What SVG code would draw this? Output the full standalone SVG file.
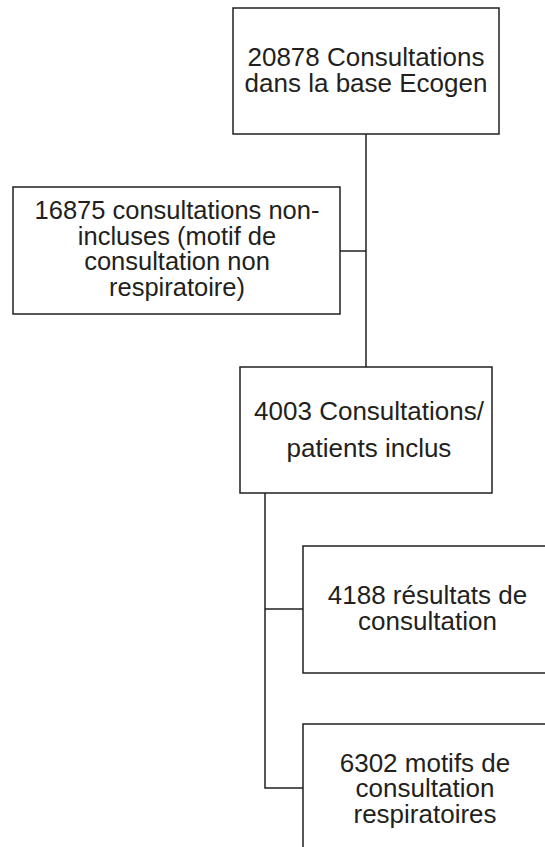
<svg xmlns="http://www.w3.org/2000/svg" width="545" height="847" viewBox="0 0 545 847">
<style>
.box{fill:#ffffff;stroke:#231f20;stroke-width:1.5}
.lbl{font-family:"Liberation Sans",Arial,sans-serif;font-size:26px;fill:#231f20;text-anchor:middle}
.con{fill:none;stroke:#231f20;stroke-width:1.5}
</style>
<rect width="545" height="847" fill="#ffffff"/>
<g id="connectors">
<path class="con" d="M366,134 V367"/>
<path class="con" d="M340,251 H366"/>
<path class="con" d="M265,493 V788 H303"/>
<path class="con" d="M265,609 H303"/>
</g>
<g id="n1">
<rect class="box" x="233" y="8" width="266" height="126"/>
<text class="lbl" x="366" y="66">20878 Consultations</text>
<text class="lbl" x="366" y="92">dans la base Ecogen</text>
</g>
<g id="n2">
<rect class="box" x="13" y="187" width="327" height="127"/>
<text class="lbl" x="177" y="219" style="font-size:25.5px">16875 consultations non-</text>
<text class="lbl" x="177" y="245" style="font-size:25.5px">incluses (motif de</text>
<text class="lbl" x="177" y="270" style="font-size:25.5px">consultation non</text>
<text class="lbl" x="177" y="296" style="font-size:25.5px">respiratoire)</text>
</g>
<g id="n3">
<rect class="box" x="240" y="367" width="252" height="126"/>
<text class="lbl" x="369" y="420">4003 Consultations/</text>
<text class="lbl" x="369" y="457">patients inclus</text>
</g>
<g id="n4">
<rect class="box" x="303" y="546" width="260" height="127"/>
<text class="lbl" x="427.5" y="604">4188 résultats de</text>
<text class="lbl" x="427.5" y="630">consultation</text>
</g>
<g id="n5">
<rect class="box" x="303" y="724" width="260" height="140"/>
<text class="lbl" x="425" y="772">6302 motifs de</text>
<text class="lbl" x="425" y="797">consultation</text>
<text class="lbl" x="425" y="823">respiratoires</text>
</g>
</svg>
